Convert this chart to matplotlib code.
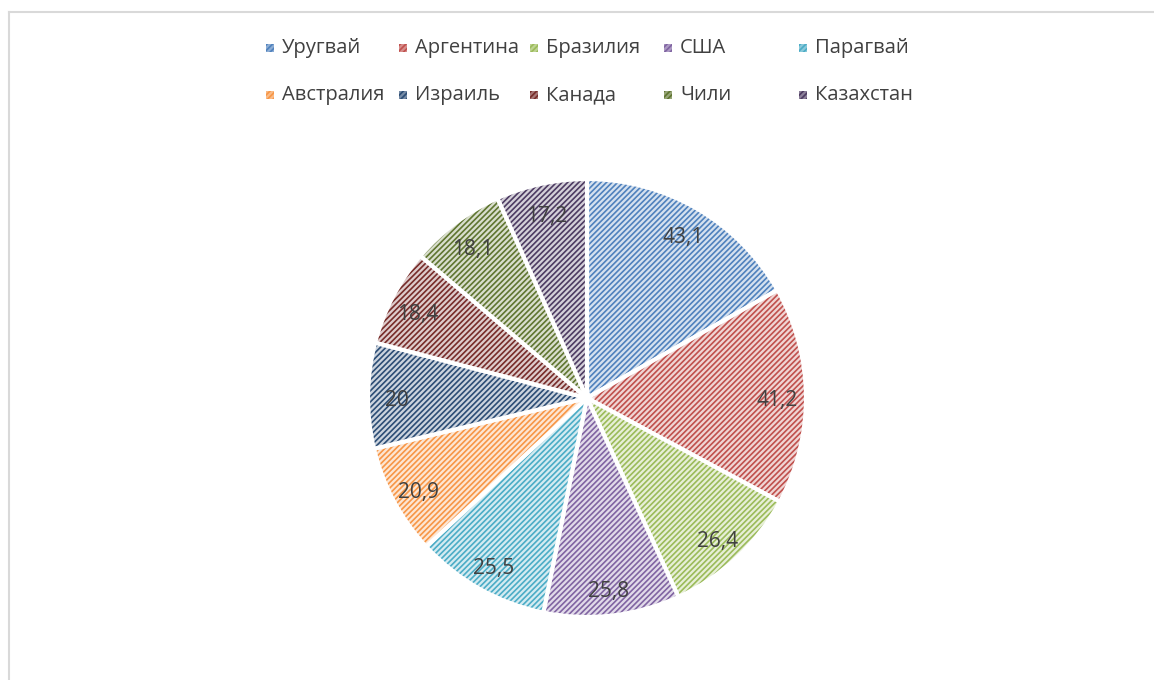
import matplotlib.pyplot as plt
import matplotlib.colors as mcolors
import numpy as np
from matplotlib.lines import Line2D
from matplotlib.patches import Rectangle

countries = ["Уругвай", "Аргентина", "Бразилия", "США", "Парагвай",
             "Австралия", "Израиль", "Канада", "Чили", "Казахстан"]
values = [43.1, 41.2, 26.4, 25.8, 25.5, 20.9, 20.0, 18.4, 18.1, 17.2]
value_labels = ["43,1", "41,2", "26,4", "25,8", "25,5", "20,9", "20", "18,4", "18,1", "17,2"]
colors = ["#4F81BD", "#C0504D", "#9BBB59", "#8064A2", "#4BACC6",
          "#F79646", "#2C4D75", "#772C2A", "#5F7530", "#4D3B62"]

plt.rcParams["font.family"] = ["Open Sans", "DejaVu Sans"]
plt.rcParams["hatch.linewidth"] = 1.2


def tint(color, amount):
    r, g, b = mcolors.to_rgb(color)
    return (r + (1 - r) * amount, g + (1 - g) * amount, b + (1 - b) * amount)


def set_hatch_color(patch, color):
    if hasattr(patch, "set_hatchcolor"):
        patch.set_hatchcolor(color)
    else:
        patch._hatch_color = mcolors.to_rgba(color)


W, H = 1154, 680
fig = plt.figure(figsize=(W / 100, H / 100), dpi=100)

# pie: center (587, 398), radius ~219 px
cx, cy, r = 587, 398, 219
ax = fig.add_axes([(cx - r) / W, 1 - (cy + r) / H, 2 * r / W, 2 * r / H])
wedges, _ = ax.pie(values, startangle=90, counterclock=False, radius=1.0,
                   wedgeprops={"linewidth": 3, "edgecolor": "white"})
for w, c in zip(wedges, colors):
    w.set_facecolor(tint(c, 0.76))
    w.set_hatch("//////")
    set_hatch_color(w, c)

total = sum(values)
start = 90.0
for v, lab in zip(values, value_labels):
    mid = np.deg2rad(start - v / total * 180)
    ax.text(0.87 * np.cos(mid), 0.87 * np.sin(mid) - 0.02, lab, ha="center", va="center",
            fontsize=15, color="#404040")
    start -= v / total * 360
ax.set_xlim(-1, 1)
ax.set_ylim(-1, 1)
ax.set_aspect("equal")

# legend drawn by hand to keep Excel's even column widths
col_x = [270, 403, 534, 668, 803]
row_y = [48, 95]
for i, (name, c) in enumerate(zip(countries, colors)):
    x = col_x[i % 5]
    y = row_y[i // 5]
    sq = Rectangle(((x - 4) / W, 1 - (y + 4) / H), 8 / W, 8 / H,
                   transform=fig.transFigure, facecolor=tint(c, 0.35),
                   edgecolor="none", hatch="//////")
    set_hatch_color(sq, c)
    fig.add_artist(sq)
    fig.text((x + 12) / W, 1 - y / H, name, ha="left", va="center",
             fontsize=14.5, color="#404040")

# chart area border (top and left visible)
fig.add_artist(Line2D([9 / W, 1], [1 - 12 / H, 1 - 12 / H], transform=fig.transFigure,
                      color="#D9D9D9", linewidth=1.5))
fig.add_artist(Line2D([9 / W, 9 / W], [0, 1 - 12 / H], transform=fig.transFigure,
                      color="#D9D9D9", linewidth=1.5))

fig.savefig("out.png", dpi=100)
